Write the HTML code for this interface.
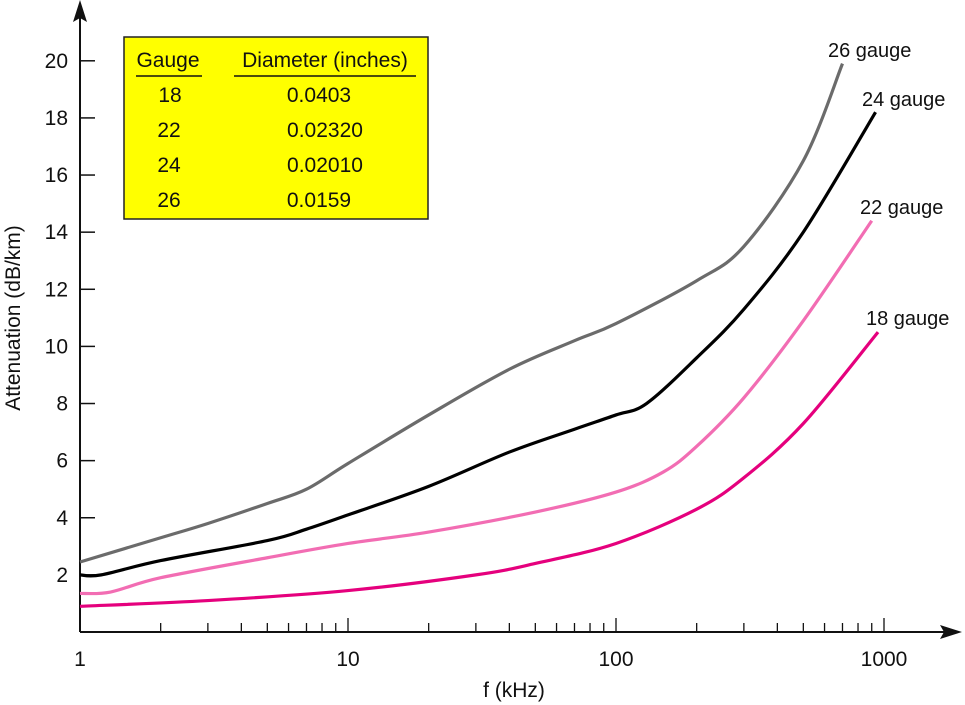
<!DOCTYPE html>
<html><head><meta charset="utf-8"><style>
html,body{margin:0;padding:0;background:#fff;}
svg{display:block;font-family:"Liberation Sans",sans-serif;}
</style></head><body>
<svg id="chart" width="965" height="705" viewBox="0 0 965 705">
<g id="axes"></g>
<g id="series"></g>
<g>
<rect x="124" y="37" width="304" height="182" fill="#ffff00" stroke="#222" stroke-width="1.5"/>
<text x="168" y="67" font-size="21" text-anchor="middle" fill="#111">Gauge</text>
<line x1="136" y1="76" x2="202" y2="76" stroke="#111" stroke-width="1.5"/>
<text x="325" y="67" font-size="21" text-anchor="middle" fill="#111">Diameter (inches)</text>
<line x1="234" y1="76" x2="416" y2="76" stroke="#111" stroke-width="1.5"/>
<text x="170" y="102" font-size="21" text-anchor="middle" fill="#111">18</text>
<text x="319" y="102" font-size="21" text-anchor="middle" fill="#111">0.0403</text>
<text x="169" y="137" font-size="21" text-anchor="middle" fill="#111">22</text>
<text x="325" y="137" font-size="21" text-anchor="middle" fill="#111">0.02320</text>
<text x="169" y="172" font-size="21" text-anchor="middle" fill="#111">24</text>
<text x="325" y="172" font-size="21" text-anchor="middle" fill="#111">0.02010</text>
<text x="169" y="207" font-size="21" text-anchor="middle" fill="#111">26</text>
<text x="319" y="207" font-size="21" text-anchor="middle" fill="#111">0.0159</text>
</g>
</svg>
<script>
const yTicks=[2,4,6,8,10,12,14,16,18,20];
const xMajor=[1,10,100,1000];
const xMajorLabels=["1","10","100","1000"];
const g26F=[1,2,3,5,7,10,20,40,70,100,200,300,500,700];
const g26V=[2.45,3.3,3.8,4.5,5.0,5.9,7.6,9.2,10.2,10.8,12.3,13.5,16.5,19.9];
const g24F=[1,1.2,2,5,7,10,20,40,70,100,130,200,300,500,930];
const g24V=[2.0,2.0,2.5,3.2,3.6,4.1,5.1,6.3,7.1,7.6,8.0,9.6,11.3,14.0,18.2];
const g22F=[1,1.3,2,5,10,20,50,100,150,200,300,500,900];
const g22V=[1.35,1.4,1.9,2.6,3.1,3.5,4.2,4.9,5.6,6.5,8.2,10.9,14.4];
const g18F=[1,3,10,30,50,100,200,300,500,950];
const g18V=[0.9,1.1,1.45,2.0,2.4,3.1,4.3,5.4,7.3,10.5];
const seriesNames=["26 gauge","24 gauge","22 gauge","18 gauge"];

const X0=80,DEC=268,Y0=632,YS=28.56;
const xs=f=>X0+Math.log10(f)*DEC;
const ys=v=>Y0-v*YS;
const NS="http://www.w3.org/2000/svg";
function mk(t,a,p){const e=document.createElementNS(NS,t);for(const k in a)e.setAttribute(k,a[k]);p.appendChild(e);return e;}
const ax=document.getElementById('axes');
let l=mk('line',{x1:X0,y1:Y0,x2:945,y2:Y0,stroke:'#111','stroke-width':2},ax);


let a=mk('polygon',{points:`962,${Y0} 940,${Y0-7} 944,${Y0} 940,${Y0+7}`,fill:'#111'},ax);


l=mk('line',{x1:X0,y1:Y0,x2:X0,y2:12,stroke:'#111','stroke-width':2},ax);


a=mk('polygon',{points:`${X0},0 ${X0-7},22 ${X0},18 ${X0+7},22`,fill:'#111'},ax);


yTicks.forEach(v=>{
 const t=mk('line',{x1:X0,y1:ys(v),x2:X0+15,y2:ys(v),stroke:'#111','stroke-width':1.5},ax);
 
 
 const tx=mk('text',{x:X0-12,y:ys(v)+7,'font-size':21,'text-anchor':'end',fill:'#111'},ax);
 tx.textContent=v;
 
 
});
for(let d=0;d<3;d++){for(let m=2;m<=10;m++){
 const f=m*Math.pow(10,d);
 const t=mk('line',{x1:xs(f),y1:Y0,x2:xs(f),y2:Y0-(m===10?14:9),stroke:'#111','stroke-width':1.3},ax);
 
 
}}
xMajor.forEach((f,i)=>{
 const tx=mk('text',{x:xs(f),y:Y0+34,'font-size':21,'text-anchor':'middle',fill:'#111'},ax);
 tx.textContent=xMajorLabels[i];
 
 
});
let tt=mk('text',{x:514,y:697,'font-size':21,'text-anchor':'middle',fill:'#111'},ax);
tt.textContent='f (kHz)';


tt=mk('text',{x:20,y:318,'font-size':21,'text-anchor':'middle',fill:'#111',transform:'rotate(-90 20 318)'},ax);
tt.textContent='Attenuation (dB/km)';



function path(F,V){
 const p=F.map((f,i)=>[xs(f),ys(V[i])]);
 let d=`M${p[0][0]},${p[0][1]}`;
 for(let i=0;i<p.length-1;i++){
  const p0=p[i-1]||p[i],p1=p[i],p2=p[i+1],p3=p[i+2]||p2;
  const c1=[p1[0]+(p2[0]-p0[0])/6,p1[1]+(p2[1]-p0[1])/6];
  const c2=[p2[0]-(p3[0]-p1[0])/6,p2[1]-(p3[1]-p1[1])/6];
  d+=` C${c1[0]},${c1[1]} ${c2[0]},${c2[1]} ${p2[0]},${p2[1]}`;
 }
 return d;
}
const sg=document.getElementById('series');
const defs=[[g26F,g26V,'#6b6b6b','series-26-gauge',828,57],[g24F,g24V,'#000','series-24-gauge',862,106],[g22F,g22V,'#f26db3','series-22-gauge',860,214],[g18F,g18V,'#e5007d','series-18-gauge',866,325]];
defs.forEach((s,i)=>{
 const p=mk('path',{d:path(s[0],s[1]),fill:'none',stroke:s[2],'stroke-width':3.2},sg);
 
 
 const t=mk('text',{x:s[4],y:s[5],'font-size':20,fill:'#111'},sg);
 t.textContent=seriesNames[i];
 
 
});
</script>
</body></html>
